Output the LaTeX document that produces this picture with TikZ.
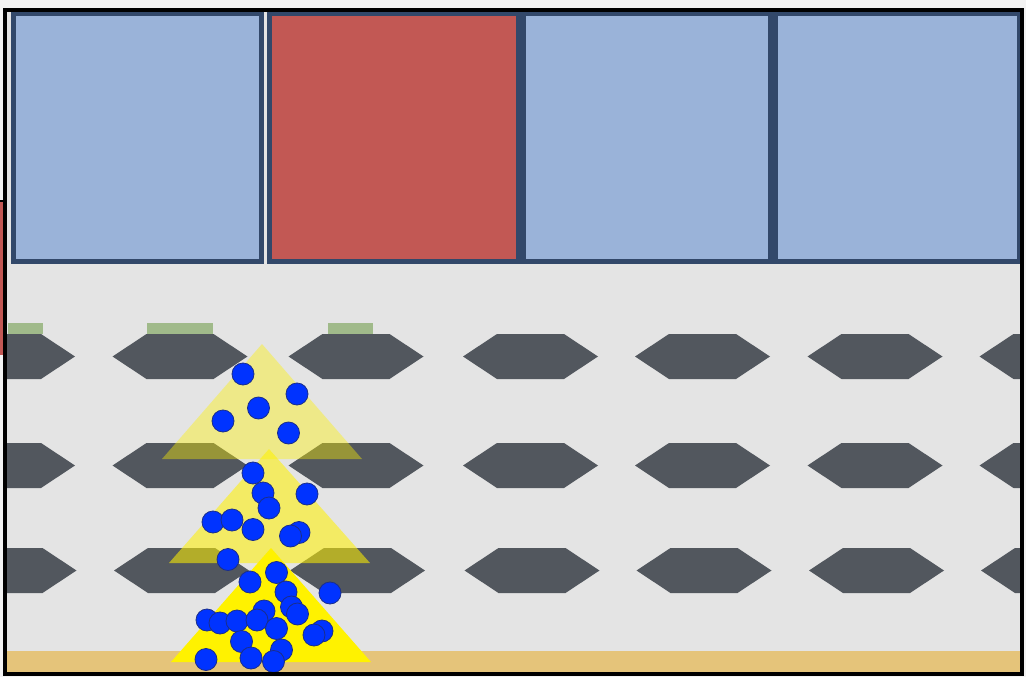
\documentclass[tikz,border=0pt]{standalone}
\definecolor{outerbg}{HTML}{F3F3F3}
\definecolor{bg}{HTML}{E4E4E4}
\definecolor{boxblue}{HTML}{9AB3D9}
\definecolor{boxred}{HTML}{C25854}
\definecolor{boxline}{HTML}{32486A}
\definecolor{hexgray}{HTML}{52575E}
\definecolor{leaf}{HTML}{A0BA8A}
\definecolor{sand}{HTML}{E5C47A}
\definecolor{ball}{HTML}{0033FF}
\definecolor{ballline}{HTML}{1A2E8A}
\tikzset{
  cellbox/.style={draw=boxline, line width=5pt},
  hexa/.style={fill=hexgray},
  ballstyle/.style={fill=ball, draw=ballline, line width=0.8pt},
  leafbar/.style={fill=leaf},
}
\begin{document}
\begin{tikzpicture}[x=1pt,y=-1pt]
\useasboundingbox (0,0) rectangle (1026,677);
\fill[outerbg] (0,0) rectangle (1026,677);
% side red strip
\fill[boxred] (0,201) rectangle (3,355);
\draw[black, line width=1.5pt] (0,201) -- (3,201);
% interior
\fill[bg] (5,10) rectangle (1022,674);
\fill[sand] (5,651) rectangle (1022,672.5);
% hexagons
\begin{scope}
\clip (5,10) rectangle (1022,674);
\foreach \cy/\dx in {356.5/0, 465.5/0, 570.5/1.5}{
  \foreach \cx in {7.5,180,356,530.5,702.5,875,1047}{
    \fill[hexa, shift={(\cx+\dx,\cy)}] (-67.5,0) -- (-33.5,-22.5) -- (33.5,-22.5) -- (67.5,0) -- (33.5,22.5) -- (-33.5,22.5) -- cycle;
  }
}
\end{scope}
% green bars
\fill[leafbar] (8,323) rectangle (43,334);
\fill[leafbar] (147,323) rectangle (213,334);
\fill[leafbar] (328,323) rectangle (373,334);
% triangles
\fill[yellow, fill opacity=0.4] (262,344) -- (362,459) -- (162,459) -- cycle;
\fill[yellow, fill opacity=0.56] (269,449) -- (370,563) -- (169,563) -- cycle;
\fill[yellow] (271,548) -- (371,662) -- (171,662) -- cycle;
% balls
\foreach \bx/\by in {243/374, 297/394, 258.5/408, 223/421, 288.5/433,
  253/473, 263/493, 307/494, 269/508, 213/522, 232/520, 253/529.5, 299/532.5, 290.5/536, 228/559.5,
  250/582, 276.5/572.5, 286/592, 330/593, 291.5/607, 297.5/614, 207/620, 220/623, 237/621, 264/611, 257/620,
  276.5/628.5, 322/631, 314/635, 241.5/641.5, 281.5/650, 206/659.5, 251/658, 273.5/661.5}{
  \filldraw[ballstyle] (\bx,\by) circle[radius=11pt];
}
% boxes
\fill[boxblue] (13,13.5) rectangle (261,261.5);
\fill[boxred] (269.5,13.5) rectangle (518,261.5);
\fill[boxblue] (523.5,13.5) rectangle (770,261.5);
\fill[boxblue] (775,13.5) rectangle (1019,261.5);
\draw[cellbox] (13,13.5) rectangle (261,261.5);
\draw[cellbox] (269.5,13.5) rectangle (518,261.5);
\draw[cellbox] (523.5,13.5) rectangle (770,261.5);
\draw[cellbox] (775,13.5) rectangle (1019,261.5);
% frame
\draw[black, line width=3.5pt] (5,10) rectangle (1022,674);
\end{tikzpicture}
\end{document}
